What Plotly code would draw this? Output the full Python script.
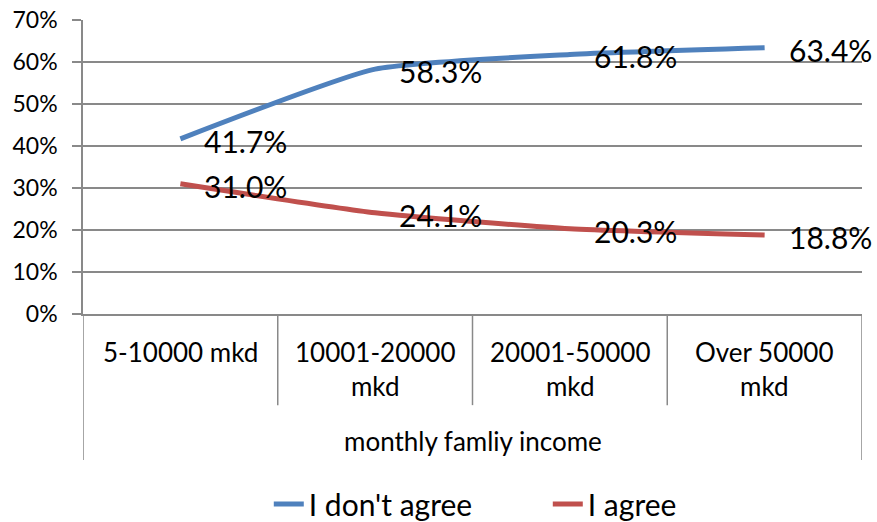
import plotly.graph_objects as go

categories = ["5-10000 mkd", "10001-20000 mkd", "20001-50000 mkd", "Over 50000 mkd"]
category_labels = ["5-10000 mkd", "10001-20000<br>mkd", "20001-50000<br>mkd", "Over 50000<br>mkd"]
dont_agree = [0.417, 0.583, 0.618, 0.634]
agree = [0.310, 0.241, 0.203, 0.188]
axis_title = "monthly famliy income"

FONT = "Lato"
GRID = "#898989"
BLUE = "#4F81BD"
RED = "#C0504D"

x = list(range(len(categories)))

fig = go.Figure()
fig.add_trace(go.Scatter(x=x, y=dont_agree, mode="lines", name="I don't agree",
                         line=dict(color=BLUE, width=5, shape="spline", smoothing=0.5)))
fig.add_trace(go.Scatter(x=x, y=agree, mode="lines", name="I agree",
                         line=dict(color=RED, width=5, shape="spline", smoothing=0.5)))

# data labels
for series in (dont_agree, agree):
    for xi, v in zip(x, series):
        fig.add_annotation(x=xi, y=v, xref="x", yref="y", text=f"{v*100:.1f}%",
                           showarrow=False, xanchor="left", yanchor="middle",
                           xshift=22, yshift=-2, font=dict(family=FONT, size=30, color="black"))

# category labels
for xi, lab in zip(x, category_labels):
    fig.add_annotation(x=xi, y=-0.069, xref="x", yref="paper", text=lab, showarrow=False,
                       xanchor="center", yanchor="top", font=dict(family=FONT, size=26, color="black"))

fig.add_annotation(x=1.5, y=-0.432, xref="x", yref="paper", text=axis_title, showarrow=False,
                   xanchor="center", yanchor="middle", font=dict(family=FONT, size=26, color="black"))

# category divider lines
for b in [0.5, 1.5, 2.5]:
    fig.add_shape(type="line", xref="x", yref="paper", x0=b, x1=b, y0=0, y1=-0.31,
                  line=dict(color=GRID, width=1.5))
for b in [-0.5, 3.5]:
    fig.add_shape(type="line", xref="x", yref="paper", x0=b, x1=b, y0=0, y1=-0.497,
                  line=dict(color=GRID, width=1.5))

fig.update_layout(
    width=877, height=522,
    margin=dict(l=83, r=15, t=20, b=208, autoexpand=False),
    paper_bgcolor="white", plot_bgcolor="white",
    font=dict(family=FONT, size=20, color="black"),
    showlegend=True,
    legend=dict(orientation="h", x=0.2385, xanchor="left", y=-0.735, yanchor="bottom",
                font=dict(family=FONT, size=30, color="black"), itemwidth=30,
                entrywidth=234, entrywidthmode="pixels", traceorder="normal"),
)
fig.update_xaxes(range=[-0.5, 3.5], showgrid=False, showticklabels=False, zeroline=False,
                 showline=True, linecolor=GRID, linewidth=1.5, ticks="", automargin=False)
fig.update_yaxes(range=[0, 0.7], dtick=0.1, tickformat=".0%", showgrid=True, gridcolor=GRID,
                 gridwidth=1.5, zeroline=False, showline=True, linecolor=GRID, linewidth=1.5,
                 ticks="outside", ticklen=9, tickcolor=GRID, tickwidth=1.5, automargin=False,
                 tickfont=dict(family=FONT, size=23, color="black"), ticklabelstandoff=10)

fig.write_html("out.html", config={"displayModeBar": False},
               post_script="document.body.style.margin='0';document.body.style.overflow='hidden';")
